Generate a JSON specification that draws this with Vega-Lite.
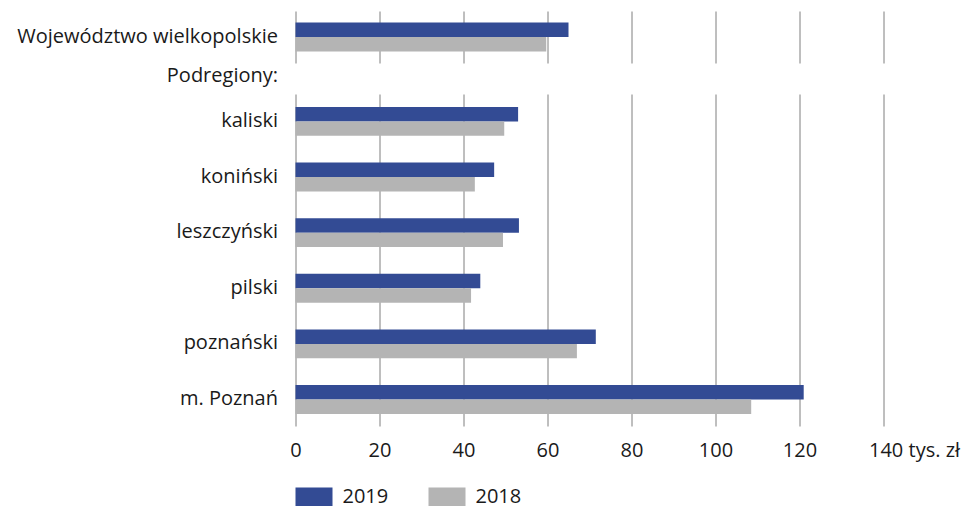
{
  "$schema": "https://vega.github.io/schema/vega-lite/v6.json",
  "padding": {"left": 16.5, "top": 11, "right": 0, "bottom": 0},
  "background": "white",
  "bounds": "flush",
  "data": {
    "values": [
      {"region": "Województwo wielkopolskie", "year": "2019", "value": 65.0},
      {"region": "Województwo wielkopolskie", "year": "2018", "value": 59.7},
      {"region": "kaliski", "year": "2019", "value": 53.0},
      {"region": "kaliski", "year": "2018", "value": 49.7},
      {"region": "koniński", "year": "2019", "value": 47.3},
      {"region": "koniński", "year": "2018", "value": 42.7},
      {"region": "leszczyński", "year": "2019", "value": 53.2},
      {"region": "leszczyński", "year": "2018", "value": 49.4},
      {"region": "pilski", "year": "2019", "value": 44.0},
      {"region": "pilski", "year": "2018", "value": 41.8},
      {"region": "poznański", "year": "2019", "value": 71.5},
      {"region": "poznański", "year": "2018", "value": 67.0},
      {"region": "m. Poznań", "year": "2019", "value": 121.0},
      {"region": "m. Poznań", "year": "2018", "value": 108.5}
    ]
  },
  "config": {
    "font": "Open Sans",
    "view": {"stroke": null},
    "axis": {
      "labelFont": "Open Sans",
      "labelFontSize": 20,
      "labelLimit": 0,
      "labelColor": "#1a1a1a",
      "titleFont": "Open Sans",
      "titleFontSize": 20,
      "titleFontWeight": "normal",
      "titleColor": "#1a1a1a",
      "gridColor": "#7f7f7f",
      "gridOpacity": 1,
      "gridWidth": 1,
      "ticks": false,
      "domain": false
    },
    "legend": {
      "orient": "bottom",
      "direction": "horizontal",
      "symbolType": "M-1,-0.5H1V0.5H-1Z",
      "symbolSize": 1369,
      "symbolStrokeWidth": 0,
      "symbolOpacity": 1,
      "labelFont": "Open Sans",
      "labelFontSize": 20,
      "labelColor": "#1a1a1a",
      "labelOffset": 10,
      "columnPadding": 40,
      "offset": 18,
      "padding": 0
    }
  },
  "spacing": 31,
  "resolve": {"scale": {"color": "shared"}, "legend": {"color": "shared"}},
  "vconcat": [
    {
      "width": 588,
      "height": 52,
      "transform": [{"filter": "datum.region === 'Województwo wielkopolskie'"}],
      "mark": {"type": "bar"},
      "encoding": {
        "y": {
          "field": "region",
          "type": "nominal",
          "title": null,
          "scale": {"paddingInner": 0, "paddingOuter": 0.4},
          "axis": {"labelPadding": 18}
        },
        "yOffset": {
          "field": "year",
          "type": "nominal",
          "sort": ["2019", "2018"],
          "scale": {"paddingInner": 0, "paddingOuter": 0}
        },
        "x": {
          "field": "value",
          "type": "quantitative",
          "scale": {"domain": [0, 140]},
          "axis": {"values": [0, 20, 40, 60, 80, 100, 120, 140], "labels": false, "title": null, "grid": true}
        },
        "color": {
          "field": "year",
          "type": "nominal",
          "sort": ["2019", "2018"],
          "scale": {"domain": ["2019", "2018"], "range": ["#334b94", "#b4b4b4"]},
          "legend": {"title": null}
        }
      }
    },
    {
      "width": 588,
      "height": 332,
      "transform": [{"filter": "datum.region !== 'Województwo wielkopolskie'"}],
      "mark": {"type": "bar"},
      "encoding": {
        "y": {
          "field": "region",
          "type": "nominal",
          "sort": ["kaliski", "koniński", "leszczyński", "pilski", "poznański", "m. Poznań"],
          "title": "Podregiony:",
          "scale": {"paddingInner": 0.497, "paddingOuter": 0.233},
          "axis": {
            "labelPadding": 18,
            "titleAngle": 0,
            "titleX": -18,
            "titleY": -19,
            "titleAlign": "right",
            "titleBaseline": "middle"
          }
        },
        "yOffset": {
          "field": "year",
          "type": "nominal",
          "sort": ["2019", "2018"],
          "scale": {"paddingInner": 0, "paddingOuter": 0}
        },
        "x": {
          "field": "value",
          "type": "quantitative",
          "scale": {"domain": [0, 140]},
          "axis": {
            "values": [0, 20, 40, 60, 80, 100, 120, 140],
            "title": null,
            "grid": true,
            "labelPadding": 14,
            "labelExpr": "datum.value == 140 ? '140 tys. zł' : datum.label",
            "labelAlign": {"condition": {"test": "datum.value == 140", "value": "left"}, "value": "center"},
            "labelOffset": {"condition": {"test": "datum.value == 140", "value": -15}, "value": 0}
          }
        },
        "color": {
          "field": "year",
          "type": "nominal",
          "sort": ["2019", "2018"],
          "scale": {"domain": ["2019", "2018"], "range": ["#334b94", "#b4b4b4"]},
          "legend": {"title": null}
        }
      }
    }
  ]
}
